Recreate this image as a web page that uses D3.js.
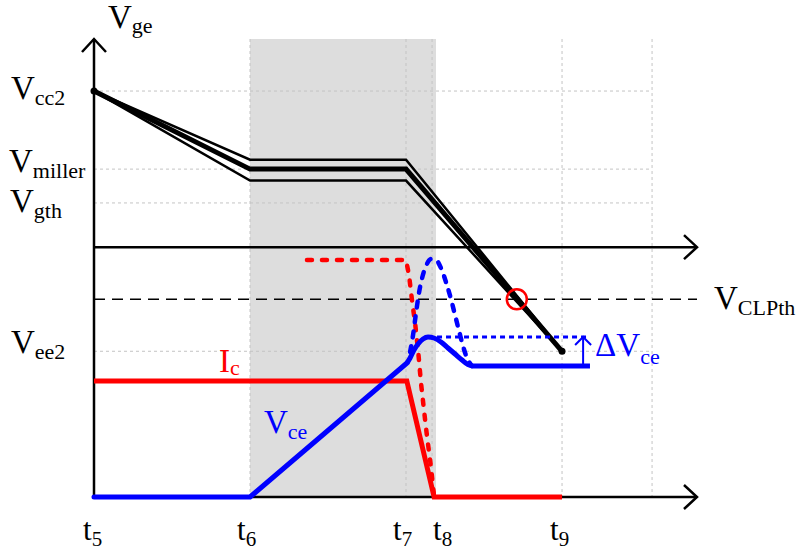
<!DOCTYPE html>
<html>
<head>
<meta charset="utf-8">
<script src="https://cdn.jsdelivr.net/npm/d3@7/dist/d3.min.js"></script>
<style>
  html, body { margin: 0; padding: 0; background: #fff; }
  svg { display: block; }
  text { font-family: "Liberation Serif", "Times New Roman", serif; }
</style>
</head>
<body>
<svg id="chart" width="810" height="551"></svg>
<script>
// ---- time instants (arbitrary time units) ----
const tickTimes  = [0, 10, 20, 21.67, 30];
const tickNames  = ["5", "6", "7", "8", "9"];
const gridTimes  = [10, 20, 21.67, 30, 35.77];
const millerBand = [10, 21.92];
const timeEnd    = 38.65;

// ---- gate-voltage levels (V) ----
const levelNames  = ["cc2", "miller", "gth", "ee2"];
const levelValues = [15, 7.5, 4.25, -10];
const clampLevel  = -5;      // V_CLPth
const clampHit    = [27.1, -5];

// ---- gate-voltage traces: [time, V] ----
const vgeUpper  = [[0, 15], [10, 8.4], [20, 8.4], [30, -10]];
const vgeMiddle = [[0, 15], [10, 7.5], [20, 7.5], [30, -10]];
const vgeLower  = [[0, 15], [10, 6.4], [20, 6.4], [30, -10]];

// ---- power-stage traces: [time, % of lower panel] ----
const icSolid = [[0, 46.4], [20.05, 46.4], [21.8, 0], [30, 0]];
const icDashed = [[13.65, 94.8], [20.0, 94.8], [20.19, 88.8], [20.38, 78.8], [20.58, 69.6],
  [20.77, 58.8], [20.96, 45.6], [21.15, 34.8], [21.35, 24.0], [21.6, 12], [21.8, 0]];
// linear rise of Vce during the Miller plateau
const vceRamp = [[0, 0], [10, 0], [20.06, 53.6]];
// overshoot and settling after the current falls
const vceBump = [[20.06, 53.6], [20.26, 55.6], [20.51, 58.8], [20.77, 61.2],
  [21.09, 63.2], [21.41, 64], [21.79, 63.6], [22.24, 62], [22.69, 59.6], [23.14, 57.2],
  [23.59, 54.8], [23.97, 53], [24.29, 52.4], [31.79, 52.4]];
const vceDashed = [[20.26, 58], [20.45, 64.8], [20.64, 73.6], [20.83, 81.6], [21.03, 87.6],
  [21.28, 92.4], [21.6, 95.2], [21.92, 94.8], [22.24, 91.6], [22.56, 86], [22.88, 79.2],
  [23.14, 72.8], [23.4, 66.4], [23.65, 60.4], [23.91, 55.6], [24.23, 52.4]];
const vcePeak   = 64;
const vceSettle = 52.4;
const peakSpan  = [21.41, 31.79];
const deltaTime = 31.35;

const RED = "#ff0000", BLUE = "#0000ff", BLACK = "#000";

const svg = d3.select("#chart");
const x  = d3.scaleLinear().domain([0, timeEnd]).range([94, 697]);
const yV = d3.scaleLinear().domain([-24, 20]).range([497, 39]);
const yP = d3.scaleLinear().domain([0, 100]).range([497, 247]);

const lineV = d3.line().x(d => x(d[0])).y(d => yV(d[1]));
const lineP = d3.line().x(d => x(d[0])).y(d => yP(d[1]));
const lineSmooth = d3.line().x(d => x(d[0])).y(d => yP(d[1])).curve(d3.curveMonotoneX);

// Miller plateau band
svg.append("rect")
  .attr("x", x(millerBand[0])).attr("y", yV(20))
  .attr("width", x(millerBand[1]) - x(millerBand[0]))
  .attr("height", yP(0) - yV(20))
  .attr("fill", "#dddddd");

// grid
const grid = svg.append("g").attr("stroke", "#c4c4c4").attr("stroke-width", 1)
  .attr("stroke-dasharray", "3,3");
grid.selectAll("line.v").data(gridTimes).join("line").attr("class", "v")
  .attr("x1", d => x(d)).attr("x2", d => x(d))
  .attr("y1", yV(20)).attr("y2", yP(0));
grid.selectAll("line.h").data(levelValues).join("line").attr("class", "h")
  .attr("x1", x(0)).attr("x2", x(35.77))
  .attr("y1", d => yV(d)).attr("y2", d => yV(d));

// axes
const axes = svg.append("g").attr("stroke", BLACK).attr("stroke-width", 2.5).attr("fill", "none");
axes.append("line").attr("x1", x(0)).attr("x2", x(0)).attr("y1", yP(0)).attr("y2", yV(20));
axes.append("path").attr("d", `M${x(0) - 12},${yV(20) + 13} L${x(0)},${yV(20)} L${x(0) + 12},${yV(20) + 13}`);
[yV(0), yP(0)].forEach(yy => {
  axes.append("line").attr("x1", x(0)).attr("x2", x(timeEnd)).attr("y1", yy).attr("y2", yy);
  axes.append("path").attr("d", `M${x(timeEnd) - 13},${yy - 12} L${x(timeEnd)},${yy} L${x(timeEnd) - 13},${yy + 12}`);
});

// clamp threshold
svg.append("line")
  .attr("x1", x(0)).attr("x2", x(timeEnd))
  .attr("y1", yV(clampLevel)).attr("y2", yV(clampLevel))
  .attr("stroke", BLACK).attr("stroke-width", 1.6).attr("stroke-dasharray", "11,7");

// gate-voltage traces
svg.append("path").attr("d", lineV(vgeUpper)).attr("fill", "none").attr("stroke", BLACK).attr("stroke-width", 2.5);
svg.append("path").attr("d", lineV(vgeLower)).attr("fill", "none").attr("stroke", BLACK).attr("stroke-width", 2.5);
svg.append("path").attr("d", lineV(vgeMiddle)).attr("fill", "none").attr("stroke", BLACK).attr("stroke-width", 5);
[vgeMiddle[0], vgeMiddle[vgeMiddle.length - 1]].forEach(p => {
  svg.append("circle").attr("cx", x(p[0])).attr("cy", yV(p[1])).attr("r", 3.5).attr("fill", BLACK);
});

// collector current
svg.append("path").attr("d", lineP(icDashed)).attr("fill", "none").attr("stroke", RED)
  .attr("stroke-width", 4.5).attr("stroke-dasharray", "5,10").attr("stroke-linecap", "round");
svg.append("path").attr("d", lineP(icSolid)).attr("fill", "none").attr("stroke", RED).attr("stroke-width", 5);

// collector-emitter voltage
svg.append("path").attr("d", lineSmooth(vceDashed)).attr("fill", "none").attr("stroke", BLUE)
  .attr("stroke-width", 4.5).attr("stroke-dasharray", "6,9").attr("stroke-linecap", "round");
svg.append("path").attr("d", lineP(vceRamp)).attr("fill", "none").attr("stroke", BLUE)
  .attr("stroke-width", 5).attr("stroke-linejoin", "round").attr("stroke-linecap", "round");
svg.append("path").attr("d", lineSmooth(vceBump)).attr("fill", "none").attr("stroke", BLUE)
  .attr("stroke-width", 5).attr("stroke-linejoin", "round");

// overshoot marker
svg.append("line").attr("x1", x(peakSpan[0])).attr("x2", x(peakSpan[1]))
  .attr("y1", yP(vcePeak)).attr("y2", yP(vcePeak))
  .attr("stroke", BLUE).attr("stroke-width", 3).attr("stroke-dasharray", "5,4");
svg.append("line").attr("x1", x(deltaTime)).attr("x2", x(deltaTime))
  .attr("y1", yP(vceSettle)).attr("y2", yP(vcePeak))
  .attr("stroke", BLUE).attr("stroke-width", 2);
svg.append("path")
  .attr("d", `M${x(deltaTime) - 8},${yP(vcePeak) + 8} L${x(deltaTime)},${yP(vcePeak)} L${x(deltaTime) + 8},${yP(vcePeak) + 8}`)
  .attr("fill", "none").attr("stroke", BLUE).attr("stroke-width", 2);

// clamp trigger point
svg.append("circle").attr("cx", x(clampHit[0])).attr("cy", yV(clampHit[1])).attr("r", 10)
  .attr("fill", "none").attr("stroke", RED).attr("stroke-width", 2.5);

// labels with subscripts
function subLabel(px, py, main, sub, color, mainSize, subSize, dy) {
  const t = svg.append("text").attr("x", px).attr("y", py).attr("fill", color)
    .style("font-size", mainSize + "px");
  t.append("tspan").text(main);
  t.append("tspan").attr("dy", dy).style("font-size", subSize + "px").text(sub);
  return t;
}

subLabel(x(0) + 14, yV(20) - 11, "V", "ge", BLACK, 33, 22, 5);
const levelLabelX = [11, 9, 10, 11];
const levelLabelDy = [8, 3, 9, 2];
levelNames.forEach((n, i) => {
  subLabel(levelLabelX[i], yV(levelValues[i]) + levelLabelDy[i], "V", n, BLACK, 33, 22, 6);
});
subLabel(x(timeEnd) + 17, yV(clampLevel) + 10, "V", "CLPth", BLACK, 33, 22, 6);
subLabel(219, yP(icSolid[0][1]) - 9, "I", "c", RED, 33, 22, 3);
subLabel(264, 433, "V", "ce", BLUE, 33, 22, 6);
subLabel(x(deltaTime) + 12, yP(vceSettle) - 10, "ΔV", "ce", BLUE, 33, 22, 8);

// time tick labels
const tickNudge = [-11, -13, -13, 1, -12];
tickTimes.forEach((t, i) => {
  subLabel(x(t) + tickNudge[i], 540, "t", tickNames[i], BLACK, 31, 21, 6);
});
</script>
</body>
</html>
